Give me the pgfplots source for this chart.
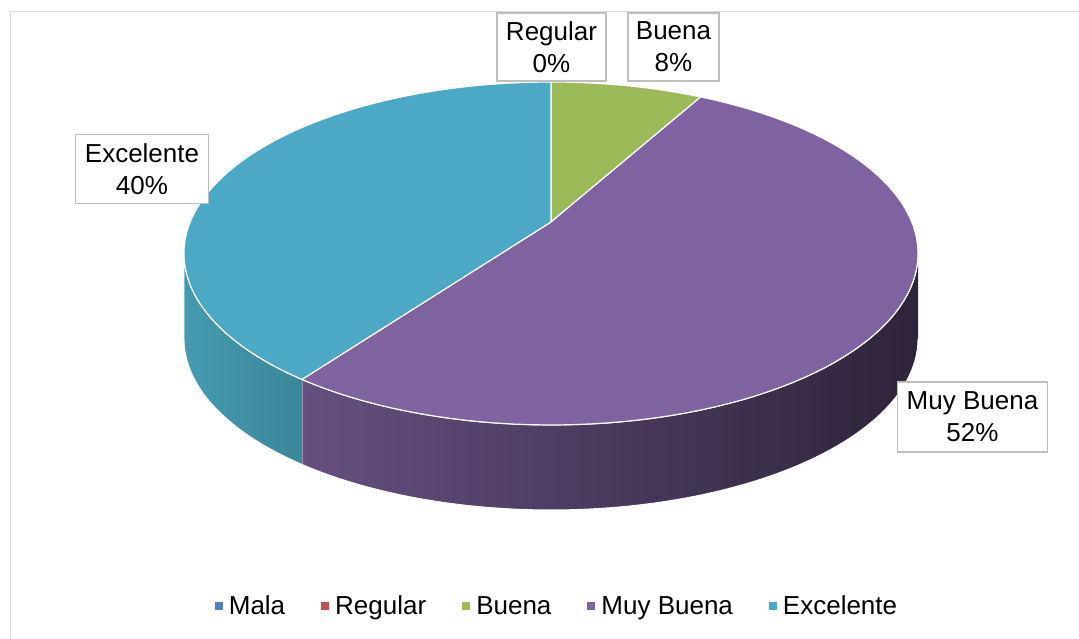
\documentclass[border=0pt]{standalone}
\usepackage{fontspec}
\setmainfont{Liberation Sans}
\usepackage{pgfplots}
\usepackage{pgfplotstable}
\pgfplotsset{compat=1.18}

\definecolor{cMala}{HTML}{4F81BD}
\definecolor{cRegular}{HTML}{C0504D}
\definecolor{cBuena}{HTML}{9BBB59}
\definecolor{cMuy}{HTML}{7F63A0}
\definecolor{cExc}{HTML}{4BA9C5}
\definecolor{cMuySideL}{HTML}{654F80}
\definecolor{cMuySideM}{HTML}{463859}
\definecolor{cMuySideR}{HTML}{2E2439}
\definecolor{cExcSideL}{HTML}{469BB0}
\definecolor{cExcSideM}{HTML}{4090A4}
\definecolor{cExcSideR}{HTML}{3B8698}
\definecolor{boxgray}{HTML}{BFBFBF}
\definecolor{framegray}{HTML}{D9D9D9}

\pgfplotstableread{
cat val
Mala 0
Regular 0
Buena 8
MuyBuena 52
Excelente 40
}\datatable

\pgfplotstablegetelem{0}{val}\of\datatable \let\vMala\pgfplotsretval
\pgfplotstablegetelem{1}{val}\of\datatable \let\vReg\pgfplotsretval
\pgfplotstablegetelem{2}{val}\of\datatable \let\vBue\pgfplotsretval
\pgfplotstablegetelem{3}{val}\of\datatable \let\vMuy\pgfplotsretval
\pgfplotstablegetelem{4}{val}\of\datatable \let\vExc\pgfplotsretval

% cumulative angles, clockwise from 12 o'clock
\pgfmathsetmacro\aA{(\vMala+\vReg)*3.6}
\pgfmathsetmacro\aB{\aA+\vBue*3.6}
\pgfmathsetmacro\aC{\aB+\vMuy*3.6}
\pgfmathsetmacro\aD{\aC+\vExc*3.6}
% visible front side between the two silhouette points
\pgfmathsetmacro\pR{90+asin(0.1837)}
\pgfmathsetmacro\pL{360-\pR}
\pgfmathsetmacro\sMuyA{max(\aB,\pR)}
\pgfmathsetmacro\sMuyB{min(\aC,\pL)}
\pgfmathsetmacro\sExcA{max(\aC,\pR)}
\pgfmathsetmacro\sExcB{min(\aD,\pL)}

\tikzset{
  declare function={
    PX(\a,\r)=551+\r*360.8*sin(\a)/(1+0.1837*cos(\a));
    PY(\a,\r)=417+\r*165.7*cos(\a)/(1+0.1837*cos(\a));
  }
}

\newcommand\topslice[3]{%
  \addplot[forget plot, fill=#3, draw=white, line width=1.2pt, line join=round,
    samples at={0,...,92}, variable=\t]
  ({PX(#1+(\t-1)*(#2-#1)/90, (\t>0.5)*(\t<91.5))},
   {PY(#1+(\t-1)*(#2-#1)/90, (\t>0.5)*(\t<91.5))});
}
\newcommand\sideface[5]{%
  \addplot[forget plot, left color=#3, middle color=#4, right color=#5, draw=white, line width=1pt,
    line join=round, samples at={0,...,181}, variable=\t]
  ({PX((1-(\t>90.5))*(#1+\t*(#2-#1)/90)+(\t>90.5)*(#2-(\t-91)*(#2-#1)/90),1)},
   {PY((1-(\t>90.5))*(#1+\t*(#2-#1)/90)+(\t>90.5)*(#2-(\t-91)*(#2-#1)/90),1)-(\t>90.5)*85});
}

\begin{document}
\begin{tikzpicture}
\useasboundingbox (0,0) rectangle (1079pt,639pt);
\begin{axis}[
  at={(0,0)}, anchor=south west,
  scale only axis, width=1079pt, height=639pt,
  xmin=0, xmax=1079, ymin=0, ymax=639,
  hide axis, clip=false,
  legend style={at={(axis cs:556,33)}, anchor=center, draw=none, fill=none,
    legend columns=-1, font=\fontsize{26}{31}\selectfont,
    /tikz/every odd column/.append style={column sep=6pt},
    /tikz/every even column/.append style={column sep=36pt},
    nodes={inner sep=0pt}},
  legend image code/.code={\fill[#1,draw=none] (0pt,-4pt) rectangle (8pt,4pt);},
]
\addlegendimage{fill=cMala}\addlegendentry{Mala}
\addlegendimage{fill=cRegular}\addlegendentry{Regular}
\addlegendimage{fill=cBuena}\addlegendentry{Buena}
\addlegendimage{fill=cMuy}\addlegendentry{Muy Buena}
\addlegendimage{fill=cExc}\addlegendentry{Excelente}

\draw[framegray, line width=1pt] (axis cs:10,0) -- (axis cs:10,627) -- (axis cs:1079,627);

\sideface{\sMuyA}{\sMuyB}{cMuySideL}{cMuySideM}{cMuySideR}
\sideface{\sExcA}{\sExcB}{cExcSideL}{cExcSideM}{cExcSideR}

\topslice{\aA}{\aB}{cBuena}
\topslice{\aB}{\aC}{cMuy}
\topslice{\aC}{\aD}{cExc}

\tikzset{lbl/.style={draw=boxgray, line width=1.2pt, fill=white, align=center,
  font=\fontsize{26}{32}\selectfont, inner sep=0pt}}
\node[lbl, minimum width=109pt, minimum height=68pt] at (axis cs:551.5,592) {Regular\\0\%};
\node[lbl, minimum width=91pt, minimum height=68pt] at (axis cs:673.5,592) {Buena\\8\%};
\node[lbl, minimum width=133pt, minimum height=69pt] at (axis cs:142,470) {Excelente\\40\%};
\node[lbl, minimum width=150pt, minimum height=70pt] at (axis cs:972.5,222) {Muy Buena\\52\%};
\end{axis}
\end{tikzpicture}
\end{document}
